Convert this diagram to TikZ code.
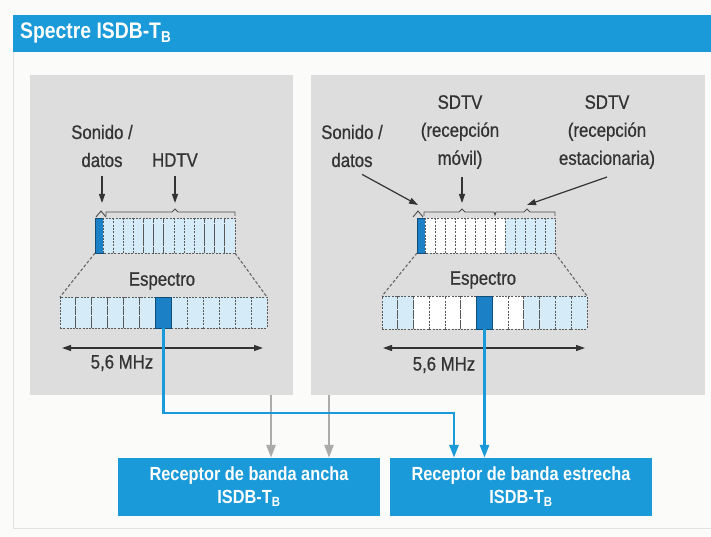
\documentclass[tikz,border=0pt]{standalone}
\usepackage{fontspec}
\setmainfont{Liberation Sans}[FakeStretch=0.86]
\newfontfamily\labelfont{Liberation Sans}[FakeStretch=0.86, FakeBold=0.7]
\usepackage{xcolor}
\usepackage{tikz}
\usetikzlibrary{arrows.meta, positioning, calc}
\definecolor{isdbblue}{HTML}{1A9AD9}
\definecolor{segdark}{HTML}{1C80C6}
\definecolor{seglight}{HTML}{D5ECF8}
\definecolor{panelgray}{HTML}{DCDDDC}
\definecolor{pagebg}{HTML}{FBFCF9}
\definecolor{arrowgray}{HTML}{ABABAB}
\definecolor{framegray}{HTML}{E2E3E0}
\definecolor{inkgray}{HTML}{333333}

\begin{document}
\begin{tikzpicture}[x=1pt, y=-1pt,
  lbl/.style={font=\labelfont\fontsize{19.5}{28}\selectfont, text=inkgray, align=center, inner sep=0pt},
  cell/.style={draw=black!65, dash pattern=on 2pt off 1.3pt, line width=0.9pt, inner sep=0pt, outer sep=0pt},
  hot/.style={fill=segdark, draw=segdark!60!black, solid},
  ptr/.style={-{Triangle[length=9pt,width=6pt]}, line width=1.2pt, inkgray},
  span/.style={{Triangle[length=9pt,width=6pt]}-{Triangle[length=9pt,width=6pt]}, line width=1.2pt, inkgray},
  brk/.style={line width=0.9pt, black!70},
  zoomline/.style={black!60, line width=1.1pt, dash pattern=on 3pt off 2pt},
  feed/.style={-{Triangle[length=13pt,width=9pt]}, line width=2.8pt, isdbblue},
  wideline/.style={-{Triangle[length=13pt,width=9pt]}, line width=2.6pt, arrowgray},
  rxbox/.style={fill=isdbblue, text=white, minimum width=262pt, minimum height=58pt,
    align=center, inner sep=0pt, font=\fontsize{19}{23}\selectfont\bfseries},
  panel/.style={fill=panelgray, inner sep=0pt, anchor=north west},
]
\fill[pagebg] (0,0) rectangle (711,537);
\useasboundingbox (0,0) rectangle (711,537);
\draw[framegray, line width=0.8pt] (13,52) -- (13,528) -- (711,528);

% title bar
\fill[isdbblue] (13,15) rectangle (711,52);
\node[font=\fontsize{22.5}{24}\selectfont\bfseries, text=white, anchor=west, inner sep=0pt]
  (ttl) at (20,33) {Spectre ISDB-T\textsubscript{B}};

% panels
\node[panel, minimum width=263pt, minimum height=320pt] (lpanel) at (30,75) {};
\node[panel, minimum width=394pt, minimum height=320pt] (rpanel) at (311,75) {};

% left panel: HDTV
\node[lbl] (lsound) at (102,146) {Sonido /\\datos};
\node[lbl] (lhd) at (175,160) {HDTV};
\coordinate (lsoundtip) at (102,203);
\coordinate (lhdtip) at (175,203);
\draw[ptr] ([yshift=-9pt]lsound.south) -- (lsoundtip);
\draw[ptr] ([yshift=-9pt]lhd.south) -- (lhdtip);
\draw[brk] (96,217) -- (101,211) -- (106,217);
\draw[brk] (106,216) -- (106,212) -- (172,212) -- (175,209) -- (178,212) -- (235,212) -- (235,216);
\draw[cell, hot] (95,218) rectangle (103,253);
\foreach \i in {0,...,12}
  \draw[cell, fill=seglight] ({103+10.15*\i},218) rectangle ++(10.15,35);
\node[lbl] (lspec) at (162,281) {Espectro};
\foreach \i in {0,...,12}
  \node[cell, fill=seglight, minimum width=15.92pt, minimum height=31pt, anchor=north west]
    (lseg\i) at ({60+15.92*\i},297) {};
\node[cell, hot, minimum width=15.92pt, minimum height=31pt, anchor=north west]
  (lseg6) at ({60+15.92*6},297) {};
\draw[zoomline] (95,253) -- (lseg0.north west);
\draw[zoomline] (235,253) -- (lseg12.north east);
\coordinate (lspanL) at (62,348);
\coordinate (lspanR) at (263,348);
\draw[span] (lspanL) -- (lspanR);
\node[lbl] (lbw) at (122,363) {5,6 MHz};

% right panel: SDTV
\node[lbl] (rsound) at (352,146) {Sonido /\\datos};
\node[lbl] (rmob) at (460,132) {SDTV\\(recepción\\móvil)};
\node[lbl] (rfix) at (607,132) {SDTV\\(recepción\\estacionaria)};
\coordinate (rsoundtip) at (418,205);
\coordinate (rmobtip) at (462,203);
\coordinate (rfixtip) at (527,205);
\draw[ptr] ([xshift=10pt,yshift=-7pt]rsound.south) -- (rsoundtip);
\draw[ptr] ([xshift=2pt,yshift=-8pt]rmob.south) -- (rmobtip);
\draw[ptr] ([yshift=-8pt]rfix.south) -- (rfixtip);
\draw[brk] (413,217) -- (418,211) -- (423,217);
\draw[brk] (424,216) -- (424,212) -- (459,212) -- (462,209) -- (465,212) -- (494,212)
  -- (495,215) -- (496,212) -- (524,212) -- (527,209) -- (530,212) -- (555,212) -- (555,216);
\draw[cell, hot] (417,218) rectangle (425,253);
\foreach \i/\c in {0/white,1/white,2/white,3/white,4/white,5/white,6/white,7/white,
                   8/seglight,9/seglight,10/seglight,11/seglight,12/seglight}
  \draw[cell, fill=\c] ({425+10*\i},218) rectangle ++(10,35);
\node[lbl] (rspec) at (483,280) {Espectro};
\foreach \i/\c in {0/seglight,1/seglight,2/white,3/white,4/white,5/white,6/white,
                   7/white,8/white,9/seglight,10/seglight,11/seglight,12/seglight}
  \node[cell, fill=\c, minimum width=15.77pt, minimum height=33pt, anchor=north west]
    (rseg\i) at ({382+15.77*\i},296) {};
\node[cell, hot, minimum width=15.77pt, minimum height=33pt, anchor=north west]
  (rseg6) at ({382+15.77*6},296) {};
\draw[zoomline] (417,253) -- (rseg0.north west);
\draw[zoomline] (555,253) -- (rseg12.north east);
\coordinate (rspanL) at (383,348);
\coordinate (rspanR) at (585,348);
\draw[span] (rspanL) -- (rspanR);
\node[lbl] (rbw) at (444,365) {5,6 MHz};

% receivers
\node[rxbox] (rx1) at (249,487) {Receptor de banda ancha\\ISDB-T\textsubscript{B}};
\node[rxbox] (rx2) at (521,487) {Receptor de banda estrecha\\ISDB-T\textsubscript{B}};

% feeds
\coordinate (g1) at (271,395);
\coordinate (g2) at (329,395);
\draw[wideline] (g1) -- (g1 |- rx1.north);
\draw[wideline] (g2) -- (g2 |- rx1.north);
\coordinate (bend) at (454,413);
\draw[feed] (lseg6.south) |- (bend) -- (bend |- rx2.north);
\draw[feed] (rseg6.south) -- (rseg6.south |- rx2.north);
\end{tikzpicture}
\end{document}
